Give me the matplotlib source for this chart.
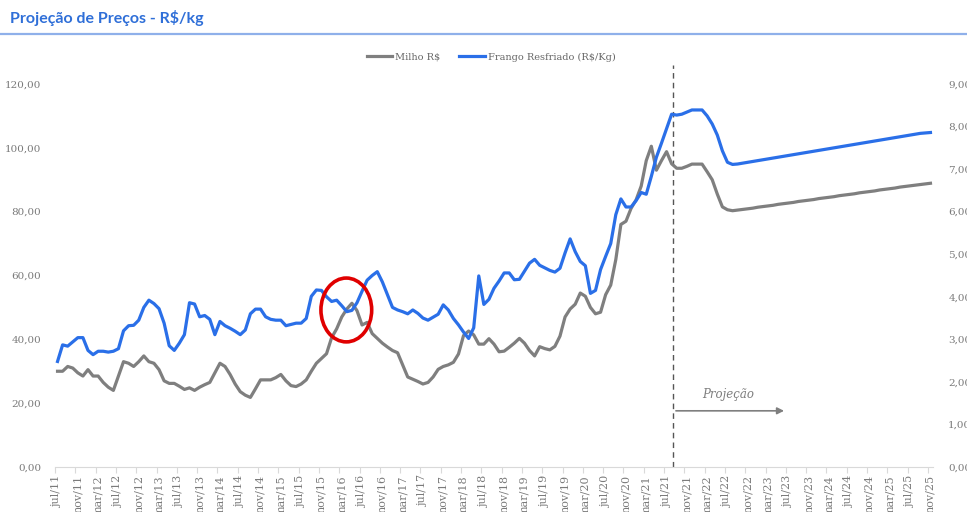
import matplotlib
matplotlib.use("Agg")
import matplotlib.pyplot as plt
from matplotlib.patches import Ellipse
from matplotlib.lines import Line2D
from matplotlib.ticker import FuncFormatter

# ---------------- data ----------------
title = "Projeção de Preços - R$/kg"
series_names = ["Milho R$", "Frango Resfriado (R$/Kg)"]

tick_labels = ["jul/11", "nov/11", "mar/12", "jul/12", "nov/12", "mar/13", "jul/13", "nov/13",
               "mar/14", "jul/14", "nov/14", "mar/15", "jul/15", "nov/15", "mar/16", "jul/16",
               "nov/16", "mar/17", "jul/17", "nov/17", "mar/18", "jul/18", "nov/18", "mar/19",
               "jul/19", "nov/19", "mar/20", "jul/20", "nov/20", "mar/21", "jul/21", "nov/21",
               "mar/22", "jul/22", "nov/22", "mar/23", "jul/23", "nov/23", "mar/24", "jul/24",
               "nov/24", "mar/25", "jul/25", "nov/25"]

# Milho R$ (left axis), monthly jul/11 .. nov/25
milho = [30, 30, 31.5, 31, 29.5, 28.5, 30.5, 28.5, 28.5, 26.5,
         25, 24, 28.5, 33, 32.5, 31.5, 33, 34.8, 33, 32.5,
         30.5, 27, 26.2, 26.2, 25.3, 24.3, 24.8, 24, 25, 25.8,
         26.5, 29.5, 32.5, 31.5, 29, 26, 23.6, 22.5, 21.8, 24.5,
         27.3, 27.3, 27.3, 28, 29, 27, 25.5, 25.2, 26, 27.3,
         30, 32.5, 34, 35.5, 40.5, 43.3, 47, 49.5, 51.3, 49,
         44.5, 45.3, 41.8, 40.3, 38.8, 37.6, 36.5, 35.8, 32, 28.2,
         27.5, 26.8, 26, 26.5, 28.2, 30.6, 31.5, 32, 32.8, 35.4,
         41.2, 42.6, 41.4, 38.5, 38.5, 40.2, 38.5, 36.1, 36.3, 37.5,
         38.8, 40.3, 38.8, 36.5, 34.8, 37.7, 37.1, 36.7, 37.8, 41,
         47, 49.5, 51, 54.5, 53.5, 50, 48, 48.5, 54, 57,
         65, 76, 77, 81, 83.7, 88, 96, 100.5, 93, 96,
         98.8, 95, 93.6, 93.6, 94.2, 94.9, 94.9, 94.9, 92.5, 90,
         85.5, 81.5, 80.6, 80.3, 80.5,
         80.7, 80.9, 81.1, 81.4, 81.6, 81.8, 82.0, 82.3, 82.5, 82.7,
         82.9, 83.2, 83.4, 83.6, 83.8, 84.1, 84.3, 84.5, 84.7, 85.0,
         85.2, 85.4, 85.6, 85.9, 86.1, 86.3, 86.5, 86.8, 87.0, 87.2,
         87.4, 87.7, 87.9, 88.1, 88.3, 88.5, 88.7, 88.9]

# Frango Resfriado R$/Kg (right axis)
frango = [2.48, 2.87, 2.84, 2.94, 3.04, 3.04, 2.74, 2.64, 2.72, 2.72,
          2.70, 2.72, 2.78, 3.20, 3.32, 3.33, 3.45, 3.75, 3.92, 3.84,
          3.72, 3.38, 2.85, 2.74, 2.91, 3.11, 3.86, 3.83, 3.53, 3.56,
          3.47, 3.11, 3.42, 3.32, 3.26, 3.19, 3.11, 3.22, 3.60, 3.71,
          3.71, 3.53, 3.47, 3.45, 3.45, 3.32, 3.35, 3.38, 3.38, 3.49,
          4.01, 4.16, 4.15, 4.00, 3.89, 3.92, 3.79, 3.65, 3.68, 3.86,
          4.13, 4.39, 4.50, 4.59, 4.35, 4.05, 3.75, 3.69, 3.65, 3.60,
          3.69, 3.61, 3.50, 3.45, 3.52, 3.59, 3.81, 3.69, 3.49, 3.34,
          3.17, 3.02, 3.27, 4.49, 3.82, 3.94, 4.20, 4.37, 4.56, 4.56,
          4.40, 4.41, 4.60, 4.79, 4.88, 4.74, 4.68, 4.62, 4.58, 4.67,
          5.03, 5.36, 5.06, 4.83, 4.73, 4.08, 4.15, 4.64, 4.95, 5.25,
          5.93, 6.30, 6.11, 6.11, 6.26, 6.45, 6.41, 6.83, 7.28, 7.61,
          7.95, 8.29, 8.27, 8.29, 8.34, 8.39, 8.39, 8.39, 8.25, 8.06,
          7.80, 7.43, 7.16, 7.11, 7.12,
          7.14, 7.16, 7.18, 7.20, 7.22, 7.24, 7.26, 7.28, 7.30, 7.32,
          7.34, 7.36, 7.38, 7.40, 7.42, 7.44, 7.46, 7.48, 7.50, 7.52,
          7.54, 7.56, 7.58, 7.60, 7.62, 7.64, 7.66, 7.68, 7.70, 7.72,
          7.74, 7.76, 7.78, 7.80, 7.82, 7.84, 7.85, 7.86]

left_ticks = [0, 20, 40, 60, 80, 100, 120]
right_ticks = [0, 1, 2, 3, 4, 5, 6, 7, 8, 9]
projection_start = 121.3
projection_label = "Projeção"

# ---------------- style ----------------
GRAY = "#7f7f7f"
BLUE = "#2a6fe8"
TXT = "#7a7a7a"
SERIF = "DejaVu Serif"

W, H = 967, 512
fig = plt.figure(figsize=(W / 100, H / 100), dpi=100)
fig.patch.set_facecolor("white")

ax = fig.add_axes([55 / W, 1 - 467 / H, (933 - 55) / W, (467 - 84) / H])
ax2 = ax.twinx()

x = list(range(len(milho)))
ax.plot(x, milho, color=GRAY, lw=2.3, solid_joinstyle="round", zorder=3)
ax2.plot(x, frango, color=BLUE, lw=2.3, solid_joinstyle="round", zorder=3)

ax.set_xlim(-0.5, len(milho) - 0.5)
ax.set_ylim(0, 120)
ax2.set_ylim(0, 9)

fmt = FuncFormatter(lambda v, p: f"{v:.2f}".replace(".", ","))
ax.set_yticks(left_ticks)
ax.yaxis.set_major_formatter(fmt)
ax2.set_yticks(right_ticks)
ax2.yaxis.set_major_formatter(fmt)

ax.set_xticks(list(range(0, len(milho), 4)))
ax.set_xticklabels(tick_labels, rotation=90, fontsize=8, family=SERIF, color=TXT)
ax.set_xticks([i - 0.5 for i in range(0, len(milho) + 1, 4)], minor=True)
ax.tick_params(axis="x", which="major", length=0, pad=6)
ax.tick_params(axis="x", which="minor", length=4, color="#d9d9d9", width=0.8)
ax.tick_params(axis="y", length=0, pad=10, labelsize=7.5, labelcolor=TXT)
ax2.tick_params(axis="y", length=0, pad=11, labelsize=7.5, labelcolor=TXT)
for lab in ax.get_yticklabels() + ax2.get_yticklabels():
    lab.set_family(SERIF)

for s in ["top", "left", "right"]:
    ax.spines[s].set_visible(False)
ax.spines["bottom"].set_color("#d9d9d9")
for s in ax2.spines.values():
    s.set_visible(False)

# projection divider
ax.axvline(projection_start, ymin=0, ymax=1.05, clip_on=False, color="#555555",
           ls=(0, (4, 3)), lw=1, zorder=2)
ax.annotate("", xy=(143.7, 17.6), xytext=(projection_start, 17.6),
            arrowprops=dict(arrowstyle="-|>", color=GRAY, lw=1.2, mutation_scale=10))
ax.text(132.2, 22.8, projection_label, style="italic", family=SERIF, fontsize=8.5,
        color=GRAY, ha="center", va="center")

# red highlight circle
ax2.add_patch(Ellipse((56.9, 49.2 / 13.333), 10, 20 / 13.333, fill=False,
                      edgecolor="#e00000", lw=2.6, zorder=6))

# legend
handles = [Line2D([], [], color=GRAY, lw=2.3), Line2D([], [], color=BLUE, lw=2.3)]
leg = fig.legend(handles, series_names, loc="center", ncol=2, frameon=False,
                 bbox_to_anchor=(491 / W, 1 - 57 / H), handlelength=2.6,
                 columnspacing=2.0, handletextpad=0.3,
                 prop={"family": SERIF, "size": 7})
for t in leg.get_texts():
    t.set_color("#666666")

# header
fig.text(10 / W, 1 - 18 / H, title, ha="left", va="center", fontsize=11.5,
         weight="bold", color="#2f6fd8", family="Lato")
fig.add_artist(Line2D([0, 1], [1 - 34 / H] * 2, transform=fig.transFigure,
                      color="#8fb0ea", lw=1.6))

fig.savefig("out.png", dpi=100)
